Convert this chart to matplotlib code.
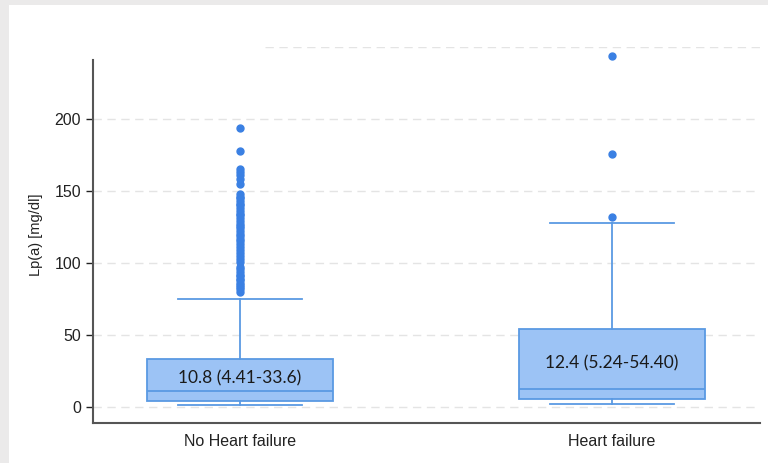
import matplotlib.pyplot as plt
from matplotlib.patches import Rectangle

plt.rcParams['font.family'] = ['Liberation Sans', 'DejaVu Sans']

# data
groups = ["No Heart failure", "Heart failure"]
medians = [10.8, 12.4]
q1s = [4.41, 5.24]
q3s = [33.6, 54.4]
whislo = [1.5, 2.0]
whishi = [75.0, 128.0]
fliers_nohf = [194, 178, 165, 163, 161, 158, 155, 148, 146, 145, 143, 141, 140,
               138, 136, 134, 133, 131, 129, 127, 126, 124, 122, 120, 119, 117,
               115, 113, 111, 109, 107, 105, 103, 101, 97, 96, 94, 92, 91, 89,
               88, 86, 85, 83, 82, 80]
fliers_hf = [244, 176, 132]
labels = ["10.8 (4.41-33.6)", "12.4 (5.24-54.40)"]
label_y = [20, 30]
yticks = [0, 50, 100, 150, 200]

fill = "#9cc3f5"
edge = "#5a9ae3"
dot = "#3a80e3"

fig = plt.figure(figsize=(7.68, 4.63), dpi=100)
fig.patch.set_facecolor("#ebeaea")
bg = Rectangle((9 / 768, 0), 1, 1 - 5 / 463, transform=fig.transFigure,
               facecolor="white", edgecolor="none", zorder=-10)
fig.add_artist(bg)

ax = fig.add_axes([93 / 768, 1 - 423 / 463, (760 - 93) / 768, (423 - 47) / 463])
ax.set_facecolor("none")

stats = []
for i in range(2):
    stats.append(dict(med=medians[i], q1=q1s[i], q3=q3s[i], whislo=whislo[i],
                      whishi=whishi[i], fliers=[fliers_nohf, fliers_hf][i]))

ax.bxp(stats, positions=[1, 2], widths=0.5, capwidths=0.333, patch_artist=True,
       boxprops=dict(facecolor=fill, edgecolor=edge, linewidth=1.3),
       medianprops=dict(color=edge, linewidth=1.3),
       whiskerprops=dict(color=edge, linewidth=1.3),
       capprops=dict(color=edge, linewidth=1.3),
       flierprops=dict(marker="o", markerfacecolor=dot, markeredgecolor=dot,
                       markersize=5, linestyle="none"),
       zorder=3)

for i, t in enumerate(labels):
    ax.text(i + 1, label_y[i], t, ha="center", va="center", fontsize=12.5,
            family="Lato", color="#1a1a1a", zorder=4)

ax.set_xlim(0.605, 2.398)
ax.set_ylim(-11.1, 250)
ax.set_yticks(yticks)
ax.set_xticks([1, 2])
ax.set_xticklabels(groups)
ax.tick_params(axis="x", length=0, labelsize=11.5, pad=8, colors="#222")
ax.tick_params(axis="y", length=5, width=1, labelsize=11.5, colors="#222")
ax.set_ylabel("Lp(a) [mg/dl]", fontsize=10.5, color="#222", labelpad=8)

for y in yticks:
    ax.axhline(y, color="#e4e4e4", linestyle=(0, (6, 4)), linewidth=1, zorder=1)
ax.axhline(250, xmin=(265 - 93) / (760 - 93), color="#e4e4e4",
           linestyle=(0, (6, 4)), linewidth=1, zorder=1)

for s in ["top", "right"]:
    ax.spines[s].set_visible(False)
ax.spines["left"].set_bounds(-11.1, 241)
for s in ["left", "bottom"]:
    ax.spines[s].set_color("#555")
    ax.spines[s].set_linewidth(1.5)

fig.savefig("out.png", dpi=100)
